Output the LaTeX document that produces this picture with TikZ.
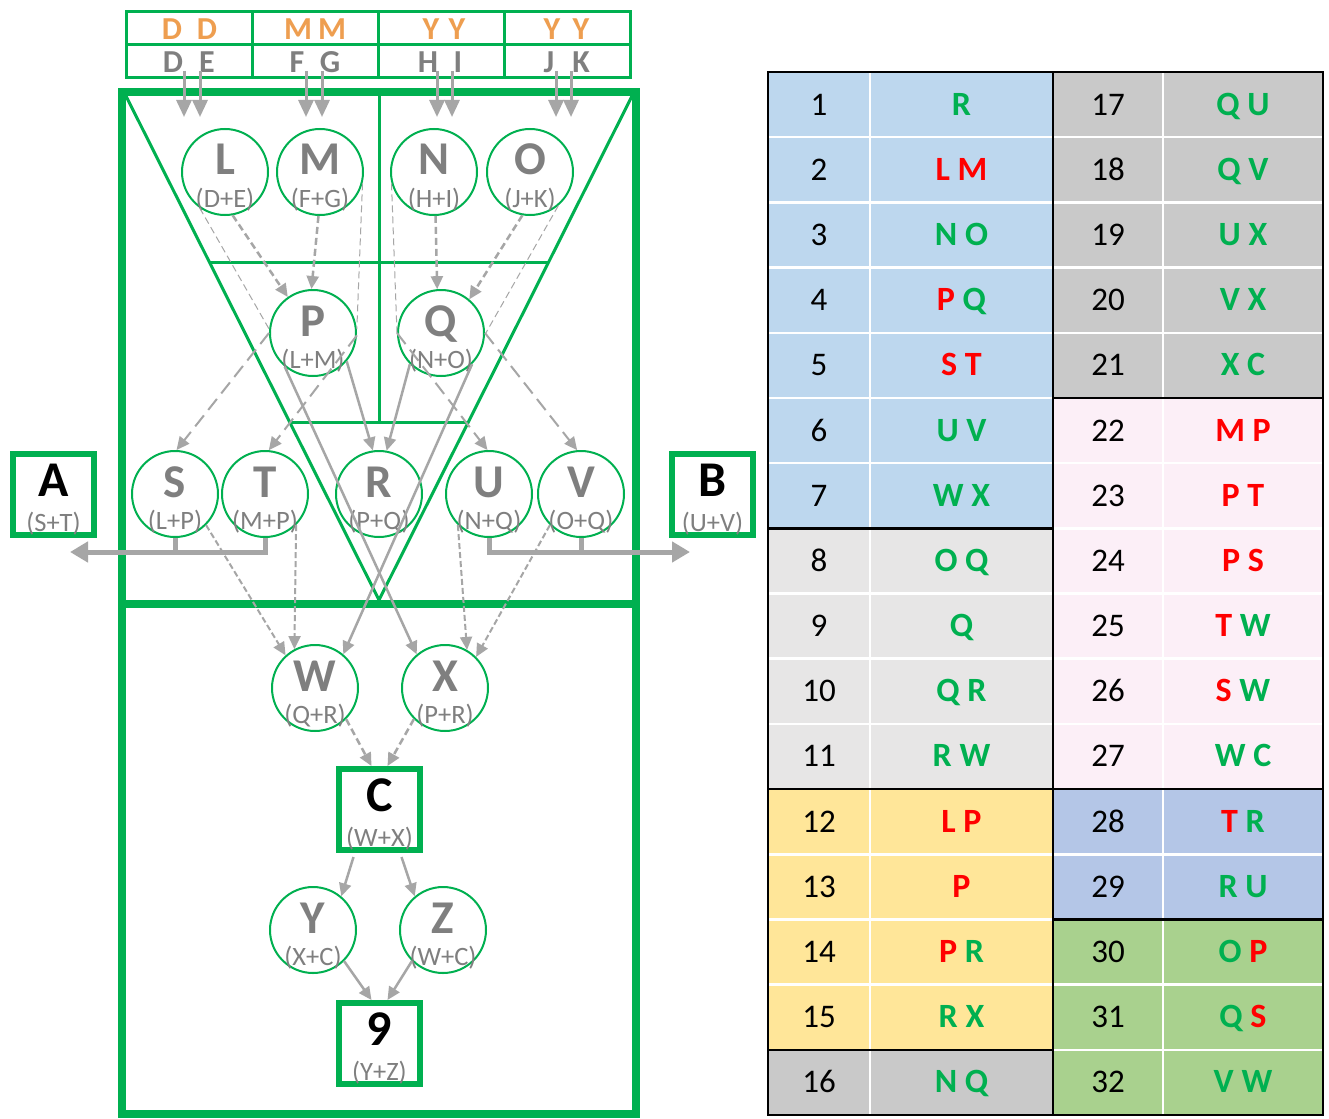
\documentclass[tikz,border=0pt]{standalone}
\usepackage{fontspec}
\setmainfont{Carlito}
\usetikzlibrary{arrows.meta}
\definecolor{tgreen}{HTML}{00B050}
\definecolor{tgray}{HTML}{7F7F7F}
\definecolor{agray}{HTML}{A6A6A6}
\definecolor{torange}{HTML}{EE9E50}
\definecolor{tred}{HTML}{FF0000}
\definecolor{cblue}{HTML}{BDD7EE}
\definecolor{clgray}{HTML}{E7E6E6}
\definecolor{cyellow}{HTML}{FFE699}
\definecolor{cgray}{HTML}{C9C9C9}
\definecolor{cpink}{HTML}{FCEFF7}
\definecolor{cbluetwo}{HTML}{B4C6E7}
\definecolor{cgreen}{HTML}{A9D18E}
\newcommand\GG[1]{\textcolor{tgreen}{#1}}
\newcommand\RR[1]{\textcolor{tred}{#1}}
\tikzset{
  cir/.style={circle, draw=tgreen, line width=2pt, fill=white, minimum size=86pt, inner sep=0pt},
  boxn/.style={rectangle, draw=tgreen, line width=6pt, fill=white, minimum size=81pt, inner sep=0pt},
  big/.style={anchor=base, text=tgray, font=\fontsize{47}{47}\selectfont\bfseries, inner sep=0pt},
  bigk/.style={anchor=base, text=black, font=\fontsize{50}{50}\selectfont\bfseries, inner sep=0pt},
  small/.style={anchor=base, text=tgray, font=\fontsize{26.5}{26.5}\selectfont, inner sep=0pt},
  hdo/.style={text=torange, font=\fontsize{32}{32}\selectfont\bfseries, inner sep=0pt},
  hdg/.style={text=tgray, font=\fontsize{32}{32}\selectfont\bfseries, inner sep=0pt},
  num/.style={anchor=base, text=black, font=\fontsize{33}{33}\selectfont, inner sep=0pt},
  lets/.style={anchor=base, font=\fontsize{34}{34}\selectfont\bfseries, inner sep=0pt},
  gline/.style={draw=tgreen, line width=3pt},
  gthick/.style={draw=tgreen, line width=8pt},
  solidarr/.style={draw=agray, line width=2.5pt, -{Triangle[length=13pt,width=12pt]}},
  dasharr/.style={solidarr, dash pattern=on 7pt off 4pt},
  longdash/.style={solidarr, line width=2pt, dash pattern=on 14pt off 7pt},
  smalldash/.style={solidarr, line width=2pt, dash pattern=on 6pt off 3pt},
  thind/.style={draw=agray, line width=1pt, dash pattern=on 7pt off 4pt},
  harr/.style={draw=agray, line width=3pt, -{Triangle[length=17pt,width=15pt]}},
  fatl/.style={draw=agray, line width=5pt},
  fat/.style={fatl, -{Triangle[length=18pt,width=20pt]}},
}
\newcommand\mkcirc[5]{%
  \node[cir] (#1) at (#2,#3) {};
  \node[big] (#1t) at ([yshift=-3]#1.center) {#4};
  \node[small] (#1s) at ([yshift=-35]#1.center) {#5};
}
\newcommand\mkbox[5]{%
  \node[boxn] (#1) at (#2,#3) {};
  \node[bigk] (#1t) at ([yshift=-2]#1.center) {#4};
  \node[small] (#1s) at ([yshift=-37]#1.center) {#5};
}
\begin{document}
\begin{tikzpicture}[x=1pt,y=1pt]
\useasboundingbox (0,0) rectangle (1329,-1118);
\fill[white] (0,0) rectangle (1329,-1118);

% ---------- table ----------
\fill[cblue]    (768,-72)      rectangle (1053,-528.31);
\fill[clgray]   (768,-528.31)  rectangle (1053,-789.06);
\fill[cyellow]  (768,-789.06)  rectangle (1053,-1049.81);
\fill[cgray]    (768,-1049.81) rectangle (1053,-1115);
\fill[cgray]    (1053,-72)     rectangle (1323,-397.94);
\fill[cpink]    (1053,-397.94) rectangle (1323,-789.06);
\fill[cbluetwo] (1053,-789.06) rectangle (1323,-919.44);
\fill[cgreen]   (1053,-919.44) rectangle (1323,-1115);
\foreach \k in {1,...,15} {
  \draw[white, line width=2.5pt] (768,{-(72+\k*65.1875)}) -- (1323,{-(72+\k*65.1875)});
}
\draw[white, line width=2.5pt] (870,-72) -- (870,-1115);
\draw[white, line width=2.5pt] (1163,-72) -- (1163,-1115);
\draw[black, line width=2.5pt] (768,-72) rectangle (1323,-1115);
\draw[black, line width=2.5pt] (1053,-72) -- (1053,-1115);
\draw[black, line width=2.5pt] (768,-528.31) -- (1053,-528.31);
\draw[black, line width=2.5pt] (768,-789.06) -- (1053,-789.06);
\draw[black, line width=2.5pt] (768,-1049.81) -- (1053,-1049.81);
\draw[black, line width=2.5pt] (1053,-397.94) -- (1323,-397.94);
\draw[black, line width=2.5pt] (1053,-789.06) -- (1323,-789.06);
\draw[black, line width=2.5pt] (1053,-919.44) -- (1323,-919.44);
\foreach \i/\t in {1/{\GG{R}}, 2/{\RR{L} \RR{M}}, 3/{\GG{N} \GG{O}}, 4/{\RR{P} \GG{Q}},
  5/{\RR{S} \RR{T}}, 6/{\GG{U} \GG{V}}, 7/{\GG{W} \GG{X}}, 8/{\GG{O} \GG{Q}},
  9/{\GG{Q}}, 10/{\GG{Q} \GG{R}}, 11/{\GG{R} \GG{W}}, 12/{\RR{L} \RR{P}},
  13/{\RR{P}}, 14/{\RR{P} \GG{R}}, 15/{\GG{R} \GG{X}}, 16/{\GG{N} \GG{Q}}} {
  \node[num] (n\i) at (819,{-(72+(\i-0.5)*65.1875+10.5)}) {\i};
  \node[lets] (l\i) at (961.5,{-(72+(\i-0.5)*65.1875+10.5)}) {\t};
}
\foreach \i/\t in {17/{\GG{Q} \GG{U}}, 18/{\GG{Q} \GG{V}}, 19/{\GG{U} \GG{X}}, 20/{\GG{V} \GG{X}},
  21/{\GG{X} \GG{C}}, 22/{\RR{M} \RR{P}}, 23/{\RR{P} \RR{T}}, 24/{\RR{P} \RR{S}},
  25/{\RR{T} \GG{W}}, 26/{\RR{S} \GG{W}}, 27/{\GG{W} \GG{C}}, 28/{\RR{T} \GG{R}},
  29/{\GG{R} \GG{U}}, 30/{\GG{O} \RR{P}}, 31/{\GG{Q} \RR{S}}, 32/{\GG{V} \GG{W}}} {
  \pgfmathtruncatemacro\j{\i-16}
  \node[num] (n\i) at (1108,{-(72+(\j-0.5)*65.1875+10.5)}) {\i};
  \node[lets] (l\i) at (1243,{-(72+(\j-0.5)*65.1875+10.5)}) {\t};
}

% ---------- header ----------
\draw[gline] (126,-12) rectangle (630,-78);
\draw[gline] (126,-45) -- (630,-45);
\foreach \x in {252,378,504} { \draw[gline] (\x,-12) -- (\x,-78); }
\foreach \x/\c [count=\k] in {172/D,207/D,298/M,332/M,431/Y,457/Y,552/Y,581/Y} {
  \node[hdo] (ho\k) at (\x,-29) {\c};
}
\foreach \x/\c [count=\k] in {173/D,207/E,297/F,330/G,428/H,458/I,549/J,581/K} {
  \node[hdg] (hg\k) at (\x,-62) {\c};
}

% ---------- frame ----------
\draw[gthick] (122,-92) rectangle (636,-1114);
\draw[gthick] (122,-604) -- (636,-604);
\draw[gline] (126,-96) -- (379,-600) -- (632,-96);
\draw[gline] (209.3,-262) -- (548.7,-262);
\draw[gline] (289.6,-422) -- (468.4,-422);
\draw[gline] (379,-92) -- (379,-422);

% ---------- nodes ----------
\mkcirc{L}{225}{-172}{L}{(D+E)}
\mkcirc{M}{320}{-172}{M}{(F+G)}
\mkcirc{N}{434}{-172}{N}{(H+I)}
\mkcirc{O}{530}{-172}{O}{(J+K)}
\mkcirc{P}{313}{-333}{P}{(L+M)}
\mkcirc{Q}{441}{-333}{Q}{(N+O)}
\mkcirc{S}{175}{-494}{S}{(L+P)}
\mkcirc{T}{265}{-494}{T}{(M+P)}
\mkcirc{R}{379}{-494}{R}{(P+Q)}
\mkcirc{U}{489}{-494}{U}{(N+Q)}
\mkcirc{V}{581}{-494}{V}{(O+Q)}
\mkcirc{W}{315}{-688}{W}{(Q+R)}
\mkcirc{X}{445}{-688}{X}{(P+R)}
\mkcirc{Y}{313}{-930}{Y}{(X+C)}
\mkcirc{Z}{443}{-930}{Z}{(W+C)}
\mkbox{A}{53.5}{-494}{A}{(S+T)}
\mkbox{B}{712.5}{-494}{B}{(U+V)}
\mkbox{C}{379.5}{-809.5}{C}{(W+X)}
\mkbox{nine}{379.5}{-1043.5}{9}{(Y+Z)}

% ---------- connectors ----------
\foreach \x [count=\k] in {184,200,306,322,437,452,556,571} {
  \coordinate (hs\k) at (\x,-71);
  \coordinate (he\k) at (\x,-117);
  \draw[harr] (hs\k) -- (he\k);
}
\draw[dasharr] (L.-80) -- (P.125);
\draw[dasharr] (M.-92) -- (P.92);
\draw[dasharr] (N.-88) -- (Q.95);
\draw[dasharr] (O.-100) -- (Q.50);
\draw[thind] (L.235) -- (P.175);
\draw[thind] (M.-15) -- (P.5);
\draw[thind] (N.195) -- (Q.180);
\draw[thind] (O.-50) -- (Q.-2);
\draw[longdash] (P.180) -- (S.88);
\draw[longdash] (P.-3) -- (T.85);
\draw[longdash] (Q.180) -- (U.92);
\draw[longdash] (Q.0) -- (V.95);
\draw[solidarr] (P.-40) -- (R.98);
\draw[solidarr] (Q.-135) -- (R.80);
\draw[solidarr] (P.-130) -- (X.130);
\draw[solidarr] (Q.-45) -- (W.50);
\draw[smalldash] (S.-45) -- (W.132);
\draw[smalldash] (T.-45) -- (W.118);
\draw[smalldash] (U.-135) -- (X.60);
\draw[smalldash] (V.-135) -- (X.45);
\draw[dasharr] (W.-45) -- ([xshift=-8]C.north);
\draw[dasharr] (X.-135) -- ([xshift=8]C.north);
\draw[solidarr] ([xshift=-26,yshift=-4]C.south) -- (Y.50);
\draw[solidarr] ([xshift=22,yshift=-4]C.south) -- (Z.130);
\draw[solidarr] (Y.-45) -- ([xshift=-8]nine.north);
\draw[solidarr] (Z.-135) -- ([xshift=8]nine.north);
\coordinate (aL) at (70,-552);
\coordinate (aR) at (690,-552);
\draw[fatl] (S.south) -- (S.south |- aL);
\draw[fat] (T.south) |- (aL);
\draw[fatl] (V.south) -- (V.south |- aR);
\draw[fat] (U.south) |- (aR);
\end{tikzpicture}
\end{document}
